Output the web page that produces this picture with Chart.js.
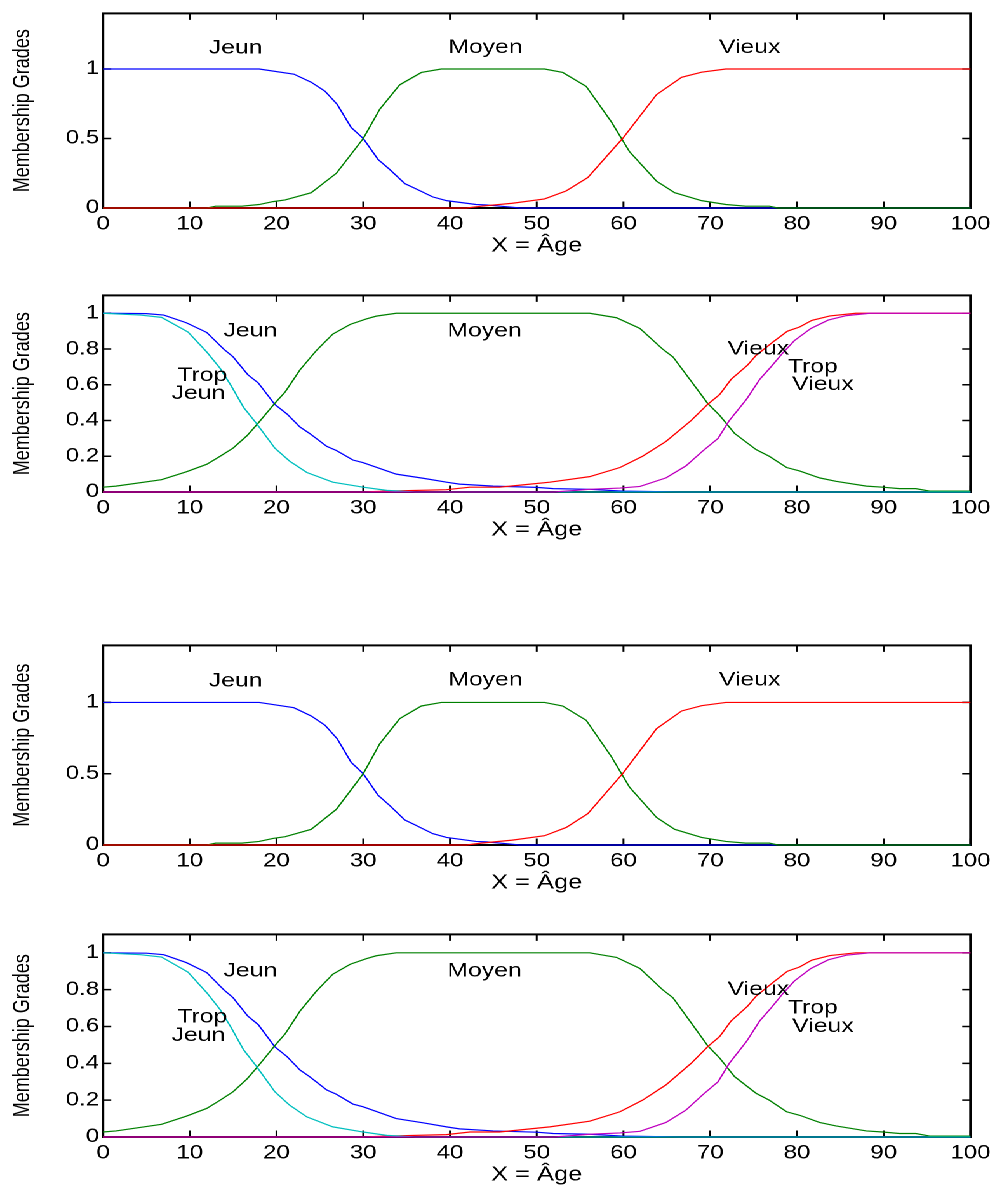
<!DOCTYPE html>
<html><head><meta charset="utf-8">
<script src="https://cdn.jsdelivr.net/npm/chart.js@4"></script>
<style>
html,body{margin:0;padding:0;background:#fff;width:997px;height:1191px;overflow:hidden;}
#wrap{position:absolute;left:0;top:0;width:785px;height:1191px;transform:scaleX(1.27);transform-origin:0 0;}
#wrap canvas{position:absolute;left:0;}
</style></head><body><div id="wrap"></div>
<script>
// ---------- DATA ----------
const xTicks = [0,10,20,30,40,50,60,70,80,90,100];
const xTickLabels = ['0','10','20','30','40','50','60','70','80','90','100'];
const topYTicks = [0,0.5,1];
const topYTickLabels = ['0','0.5','1'];
const botYTicks = [0,0.2,0.4,0.6,0.8,1];
const botYTickLabels = ['0','0.2','0.4','0.6','0.8','1'];
const xTitle = 'X = Âge';
const yTitle = 'Membership Grades';

// three-set chart (panels 1 and 3)
const topJeunX  = [0,18,22,24,25.6,27,28.6,30,31.7,33,34.8,36,38,39.6,43,44.2,47.3,48,100];
const topJeunY  = [1,1,0.963,0.905,0.84,0.745,0.58,0.5,0.35,0.28,0.175,0.14,0.08,0.053,0.025,0.022,0.005,0,0];
const topMoyenX = [0,12,13,16,18,19.6,21,24,26.9,30,31.9,34.2,36.7,39,50.9,53,55.7,58.6,60.7,63.8,65.9,69,71.8,74.1,76.8,77.8,100];
const topMoyenY = [0,0,0.013,0.013,0.025,0.046,0.058,0.11,0.25,0.5,0.71,0.886,0.975,1,1,0.975,0.875,0.62,0.405,0.194,0.11,0.053,0.025,0.013,0.013,0,0];
const topVieuxX = [0,41.9,43.6,47.2,50.9,53.4,55.9,58.6,59.9,63.8,66.7,69,71.8,100];
const topVieuxY = [0,0,0.013,0.034,0.065,0.123,0.22,0.41,0.5,0.815,0.94,0.977,1,1];

// five-set chart (panels 2 and 4)
const botTropJeunX = [0,4.3,6.75,9.8,11.95,13.5,14.8,16.2,17.7,19.8,21.5,23.5,26.5,30,32.7,34.2,36,100];
const botTropJeunY = [1,0.99,0.977,0.895,0.784,0.692,0.592,0.474,0.383,0.246,0.173,0.109,0.055,0.027,0.009,0.005,0,0];
const botJeunX = [0,5,7,9.6,11.95,13.9,15,16.7,17.9,19.8,21.2,22.7,23.8,25.8,26.9,28.8,30,33.8,36.9,39.6,41.1,45,50,51.9,56.1,59.9,66.5,100];
const botJeunY = [1,0.998,0.99,0.947,0.893,0.8,0.756,0.656,0.61,0.49,0.437,0.364,0.328,0.255,0.232,0.179,0.164,0.1,0.077,0.055,0.044,0.033,0.026,0.019,0.015,0.005,0,0];
const botMoyenX = [0,1.5,6.75,9.6,11.95,13.5,15,16.6,17.9,19.8,21,22.7,24.6,26.5,28.5,30.4,31.5,33.8,56.1,59.2,61.9,64.5,65.7,67.8,69.7,71.1,72.8,75.3,76.8,78.8,80.3,82.6,84.5,88,89.9,91.8,93.7,95.3,100];
const botMoyenY = [0.027,0.033,0.069,0.113,0.155,0.2,0.246,0.315,0.386,0.496,0.56,0.683,0.792,0.884,0.938,0.969,0.984,1,1,0.975,0.915,0.8,0.756,0.62,0.496,0.428,0.328,0.237,0.2,0.137,0.118,0.079,0.06,0.033,0.027,0.019,0.019,0.005,0.005];
const botVieuxX = [0,30,32.7,39.6,42.3,45.7,48.4,51.5,56.1,59.6,62.2,64.9,67.8,69.7,71.1,72.4,74.3,75.3,77.2,78.9,80.3,81.7,83.8,86.8,100];
const botVieuxY = [0,0,0.005,0.013,0.027,0.027,0.04,0.055,0.086,0.137,0.2,0.283,0.4,0.49,0.546,0.63,0.71,0.765,0.838,0.9,0.923,0.96,0.985,1,1];
const botTropVieuxX = [0,52,56.1,59.6,61.9,64.9,67.2,69.1,70.9,72.2,74.2,75.7,77,78.4,79.7,81.6,83.6,85.7,88.4,100];
const botTropVieuxY = [0,0,0.015,0.022,0.031,0.079,0.146,0.228,0.3,0.4,0.52,0.63,0.7,0.78,0.847,0.915,0.962,0.987,1,1];

// curve label texts and their data-space anchors
const topLabelTexts = ['Jeun','Moyen','Vieux'];
const topLabelX = [12.2,39.8,71];
const topLabelY = [1.15,1.155,1.155];
const botLabelTexts = ['Jeun','Trop','Jeun','Moyen','Vieux','Trop','Vieux'];
const botLabelX = [13.9,8.56,7.9,39.7,72,78.95,79.45];
const botLabelY = [0.9,0.652,0.55,0.9,0.8,0.7,0.6];

// ---------- BUILD ----------
const S = 1.27;           // horizontal stretch of the whole figure
const W = 785;            // pre-stretch width
const plotL = 103 / S, plotR = 971 / S;
const FONT = '"Liberation Sans", Arial, Helvetica, sans-serif';
Chart.defaults.font.family = FONT;
Chart.defaults.color = '#000';

const pts = (xs, ys) => xs.map((x, i) => ({x: x, y: ys[i]}));
const ds = (label, xs, ys, color, order) => ({
  label, data: pts(xs, ys), borderColor: color, backgroundColor: color,
  showLine: true, pointRadius: 0, borderWidth: 1.2, tension: 0, order, clip: false
});

const framePlugin = {
  id: 'frame',
  beforeDatasetsDraw(chart) {
    const {ctx, chartArea: {left, right, top, bottom}, scales: {x, y}} = chart;
    const yt = chart.options.plugins.frame.yTicks;
    const L = 6.5;
    ctx.save();
    ctx.strokeStyle = '#000';
    ctx.lineWidth = 1.5;
    ctx.beginPath();
    xTicks.forEach(v => {
      const px = x.getPixelForValue(v);
      ctx.moveTo(px, bottom); ctx.lineTo(px, bottom - L);
      ctx.moveTo(px, top); ctx.lineTo(px, top + L);
    });
    yt.forEach(v => {
      const py = y.getPixelForValue(v);
      ctx.moveTo(left, py); ctx.lineTo(left + L, py);
      ctx.moveTo(right, py); ctx.lineTo(right - L, py);
    });
    ctx.stroke();
    ctx.lineWidth = 2;
    ctx.strokeRect(left, top, right - left, bottom - top);
    ctx.restore();
  },
  afterDatasetsDraw(chart) {
    const {ctx, scales: {x, y}} = chart;
    const o = chart.options.plugins.frame;
    ctx.save();
    ctx.fillStyle = '#000';
    ctx.font = '19.5px ' + FONT;
    ctx.textAlign = 'left';
    ctx.textBaseline = 'middle';
    o.texts.forEach((t, i) => {
      ctx.fillText(t, x.getPixelForValue(o.tx[i]), y.getPixelForValue(o.ty[i]));
    });
    ctx.restore();
  }
};

const panels = [
  {top: 9,   bottom: 208,  kind: 'top'},
  {top: 291, bottom: 492,  kind: 'bot'},
  {top: 641, bottom: 845,  kind: 'top'},
  {top: 930, bottom: 1137, kind: 'bot'}
];

const wrap = document.getElementById('wrap');
panels.forEach(p => {
  const h = (p.bottom - p.top) + 60;
  const c = document.createElement('canvas');
  c.width = W; c.height = h;
  c.style.width = W + 'px'; c.style.height = h + 'px';
  c.style.top = (p.top - 10) + 'px';
  wrap.appendChild(c);
  const isTop = p.kind === 'top';
  const datasets = isTop ? [
    ds('Jeun', topJeunX, topJeunY, '#0000ff', 2),
    ds('Moyen', topMoyenX, topMoyenY, '#008000', 1),
    ds('Vieux', topVieuxX, topVieuxY, '#ff0000', 0)
  ] : [
    ds('Jeun', botJeunX, botJeunY, '#0000ff', 4),
    ds('Moyen', botMoyenX, botMoyenY, '#008000', 3),
    ds('Vieux', botVieuxX, botVieuxY, '#ff0000', 2),
    ds('Trop Jeun', botTropJeunX, botTropJeunY, '#00bfbf', 1),
    ds('Trop Vieux', botTropVieuxX, botTropVieuxY, '#bf00bf', 0)
  ];
  const yT = isTop ? topYTicks : botYTicks;
  const yL = isTop ? topYTickLabels : botYTickLabels;
  new Chart(c, {
    type: 'scatter',
    data: {datasets},
    options: {
      responsive: false,
      animation: false,
      devicePixelRatio: 2,
      layout: {padding: {left: 0, right: W - plotR, top: 10, bottom: 0}},
      plugins: {
        legend: {display: false},
        tooltip: {enabled: false},
        frame: {
          yTicks: yT,
          texts: isTop ? topLabelTexts : botLabelTexts,
          tx: isTop ? topLabelX : botLabelX,
          ty: isTop ? topLabelY : botLabelY
        }
      },
      scales: {
        x: {
          type: 'linear', min: 0, max: 100,
          grid: {display: false, drawTicks: false},
          border: {display: false},
          afterBuildTicks: s => { s.ticks = xTicks.map(v => ({value: v})); },
          afterFit: s => { s.height = 50; },
          ticks: {
            autoSkip: false, maxRotation: 0, padding: 5,
            font: {size: 19}, color: '#000',
            callback: (v, i) => xTickLabels[i]
          },
          title: {display: true, text: xTitle, font: {size: 20}, color: '#000', padding: {top: 0, bottom: 0}}
        },
        y: {
          type: 'linear', min: 0, max: isTop ? 1.4 : 1.1,
          grid: {display: false, drawTicks: false},
          border: {display: false},
          afterBuildTicks: s => { s.ticks = yT.map(v => ({value: v})); },
          afterFit: s => { s.width = plotL; },
          ticks: {
            padding: 3, font: {size: 19}, color: '#000',
            callback: (v, i) => yL[i]
          },
          title: {display: true, text: yTitle, font: {size: 18}, color: '#000', padding: {top: 7, bottom: 0}}
        }
      }
    },
    plugins: [framePlugin]
  });
});
</script>
</body></html>
